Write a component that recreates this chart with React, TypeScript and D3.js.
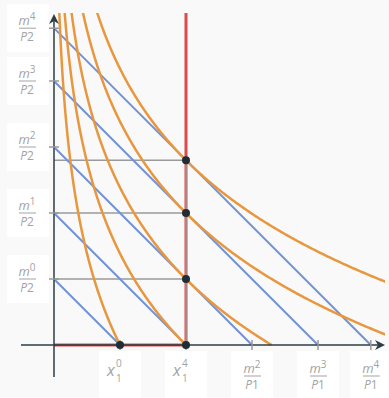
import React from "react";
import * as d3 from "d3";

// ---- data ----
const incomes = [1, 2, 3, 4, 4.8]; // m0..m4 (prices P1 = P2 = 1)
const incomeLabels = ["0", "1", "2", "3", "4"];
const prefA = 2; // u = a·ln(x1) + x2
const utilityLevels = [0, 1.386, 2.386, 3.386, 4.186];
const optX1 = [1, 2, 2, 2, 2];
const optX2 = [0, 0, 1, 2, 2.8];
const xTickLabels = [
  { v: 1, kind: "x", sup: "0" },
  { v: 2, kind: "x", sup: "4" },
  { v: 3, kind: "m", sup: "2" },
  { v: 4, kind: "m", sup: "3" },
  { v: 4.8, kind: "m", sup: "4" },
];

const W = 389;
const H = 398;
const ORANGE = "#e8973f";
const BLUE = "#7393d3";
const RED = "#dc3535";
const GRAY = "#9a9a9a";
const AXIS = "#2b3d45";
const TXT = "#a3a3a3";
const FONT = "'Open Sans', 'DejaVu Sans', sans-serif";

export default function App() {
  const x = d3.scaleLinear().domain([0, 5]).range([54, 384]);
  const y = d3.scaleLinear().domain([0, 5]).range([345, 15]);
  const line = d3
    .line<[number, number]>()
    .x((d) => x(d[0]))
    .y((d) => y(d[1]));

  const curves = utilityLevels.map((u) => {
    const pts: [number, number][] = [];
    const x1Min = Math.exp((u - 5.2) / prefA);
    const x1Max = Math.min(Math.exp(u / prefA), 5.1);
    const n = 300;
    for (let i = 0; i <= n; i++) {
      const t = i / n;
      const x1 = x1Min * Math.pow(x1Max / x1Min, t);
      pts.push([x1, Math.max(0, u - prefA * Math.log(x1))]);
    }
    return pts;
  });

  const yArrowTip = 14;
  const xArrowTip = 385;

  return (
    <svg
      width={W}
      height={H}
      style={{ position: "absolute", left: 0, top: 0, background: "#f9f9f9" }}
      fontFamily={FONT}
    >
      <defs>
        <clipPath id="plot">
          <rect x={x(0)} y={13} width={385 - x(0)} height={y(0) - 13 + 1} />
        </clipPath>
      </defs>

      {/* y labels */}
      {incomes.map((m, i) => {
        const cy = y(m);
        return (
          <g key={"yl" + i}>
            <rect x={7} y={cy - 24} width={42} height={48} fill="#fff" />
            <text x={27} y={cy - 3} textAnchor="middle" fill={TXT} fontSize={13}>
              <tspan fontStyle="italic">m</tspan>
              <tspan fontSize={10} dy={-5}>{incomeLabels[i]}</tspan>
            </text>
            <line x1={19} x2={36} y1={cy} y2={cy} stroke={TXT} strokeWidth={1} />
            <text x={27} y={cy + 13} textAnchor="middle" fill={TXT} fontSize={12}>
              <tspan fontStyle="italic">P</tspan>
              <tspan>2</tspan>
            </text>
          </g>
        );
      })}

      {/* x labels */}
      {xTickLabels.map((t, i) => {
        const cx = x(t.v);
        return (
          <g key={"xl" + i}>
            <rect x={cx - 21} y={351} width={42} height={48} fill="#fff" />
            {t.kind === "x" ? (
              <g>
                <text x={cx - 13} y={376} fill={TXT} fontSize={16} fontStyle="italic">
                  x
                </text>
                <text x={cx - 4} y={367} fill={TXT} fontSize={10}>
                  {t.sup}
                </text>
                <text x={cx - 4} y={382} fill={TXT} fontSize={10}>
                  1
                </text>
              </g>
            ) : (
              <g>
                <text x={cx} y={373} textAnchor="middle" fill={TXT} fontSize={13}>
                  <tspan fontStyle="italic">m</tspan>
                  <tspan fontSize={10} dy={-5}>{t.sup}</tspan>
                </text>
                <line x1={cx - 8} x2={cx + 9} y1={376} y2={376} stroke={TXT} strokeWidth={1} />
                <text x={cx} y={389} textAnchor="middle" fill={TXT} fontSize={12}>
                  <tspan fontStyle="italic">P</tspan>
                  <tspan>1</tspan>
                </text>
              </g>
            )}
          </g>
        );
      })}

      {/* gray guide lines */}
      {optX2.map((v, i) =>
        v > 0 ? (
          <line
            key={"g" + i}
            x1={x(0)}
            x2={x(optX1[i])}
            y1={y(v)}
            y2={y(v)}
            stroke={GRAY}
            strokeWidth={1.5}
          />
        ) : null
      )}

      <g clipPath="url(#plot)">
        {/* budget lines */}
        {incomes.map((m, i) => (
          <path
            key={"b" + i}
            d={line([
              [0, m],
              [m, 0],
            ])!}
            stroke={BLUE}
            strokeWidth={2}
            fill="none"
          />
        ))}
        {/* indifference curves */}
        {curves.map((c, i) => (
          <path key={"c" + i} d={line(c)!} stroke={ORANGE} strokeWidth={2.5} fill="none" />
        ))}
      </g>

      {/* income expansion path */}
      <path
        d={`M${x(0)},${y(0)} L${x(2)},${y(0)} L${x(2)},13`}
        stroke={RED}
        strokeWidth={3}
        fill="none"
        opacity={0.9}
      />
      <line
        x1={x(2)}
        x2={x(2)}
        y1={y(0)}
        y2={y(optX2[4])}
        stroke={GRAY}
        strokeWidth={1.5}
      />

      {/* axes */}
      <line x1={21} x2={xArrowTip - 3} y1={y(0)} y2={y(0)} stroke={AXIS} strokeWidth={1.5} />
      <line x1={x(0)} x2={x(0)} y1={377} y2={yArrowTip + 3} stroke={AXIS} strokeWidth={1.5} />
      <path
        d={`M${xArrowTip},${y(0)} L${xArrowTip - 10},${y(0) - 5} L${xArrowTip - 7},${y(0)} L${
          xArrowTip - 10
        },${y(0) + 5} Z`}
        fill={AXIS}
      />
      <path
        d={`M${x(0)},${yArrowTip} L${x(0) - 5},${yArrowTip + 10} L${x(0)},${yArrowTip + 7} L${
          x(0) + 5
        },${yArrowTip + 10} Z`}
        fill={AXIS}
      />

      {/* ticks */}
      {incomes.map((m, i) => (
        <line
          key={"yt" + i}
          x1={x(0) - 5}
          x2={x(0) + 5}
          y1={y(m)}
          y2={y(m)}
          stroke={GRAY}
          strokeWidth={1.5}
        />
      ))}
      {xTickLabels.map((t, i) => (
        <line
          key={"xt" + i}
          x1={x(t.v)}
          x2={x(t.v)}
          y1={y(0) - 5}
          y2={y(0) + 5}
          stroke={GRAY}
          strokeWidth={1.5}
        />
      ))}

      {/* optimum points */}
      {optX1.map((v, i) => (
        <circle key={"p" + i} cx={x(v)} cy={y(optX2[i])} r={4} fill="#1e2e34" />
      ))}
    </svg>
  );
}
